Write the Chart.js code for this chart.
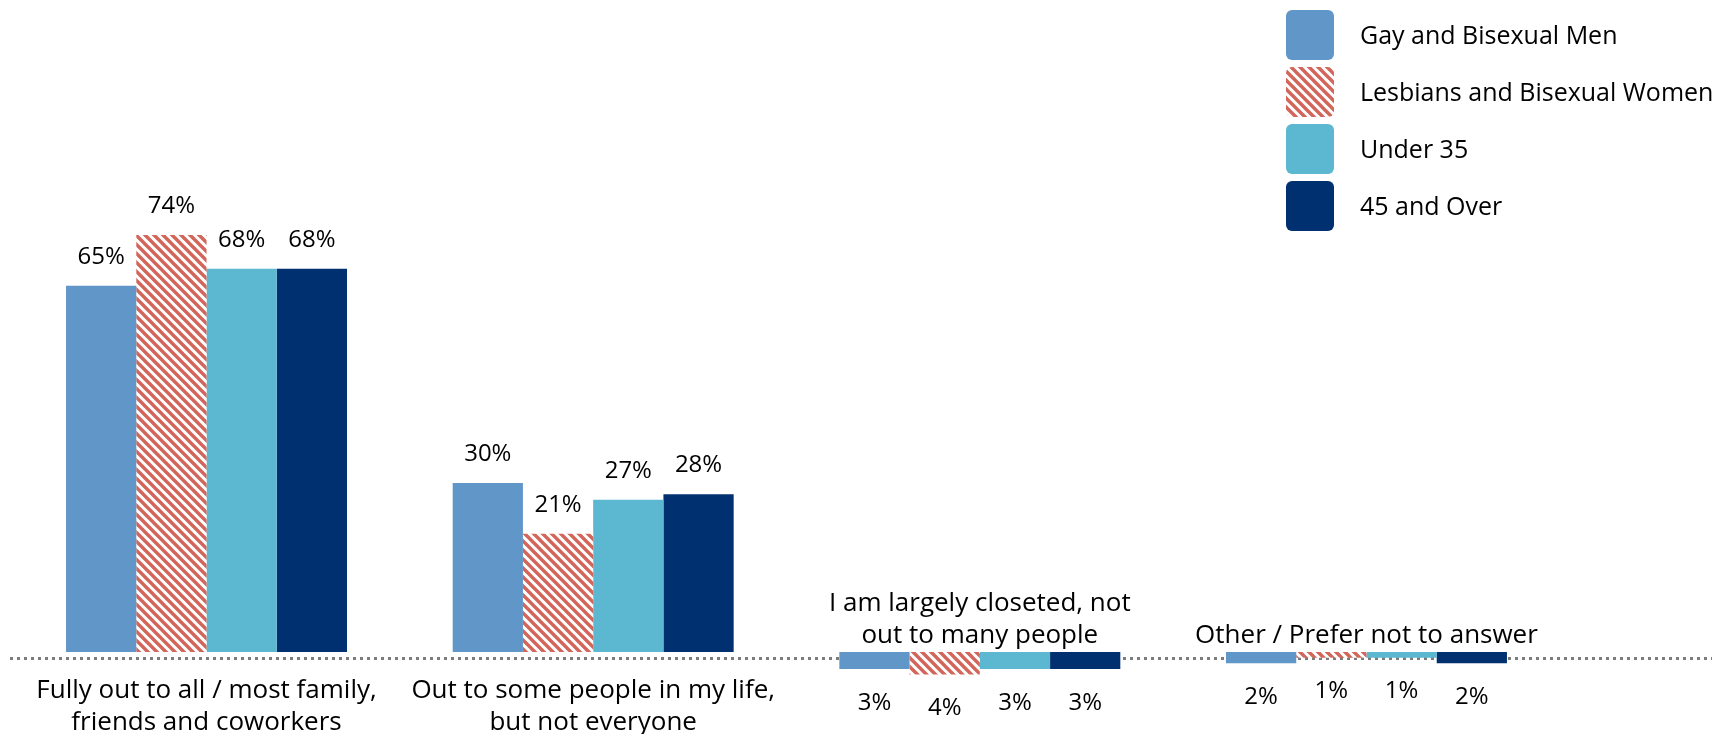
<!DOCTYPE html>
<html>
<head>
<meta charset="utf-8">
<script src="https://cdn.jsdelivr.net/npm/chart.js@4.4.1/dist/chart.umd.min.js"></script>
<style>
  html, body { margin: 0; padding: 0; background: #ffffff; }
  #wrap { position: relative; width: 1712px; height: 734px; }
</style>
</head>
<body>
<div id="wrap"><canvas id="c"></canvas></div>
<script>
// ---- Data ----
const categories = [
  ["Fully out to all / most family,", "friends and coworkers"],
  ["Out to some people in my life,", "but not everyone"],
  ["I am largely closeted, not", "out to many people"],
  ["Other / Prefer not to answer"]
];
const seriesNames = ["Gay and Bisexual Men", "Lesbians and Bisexual Women", "Under 35", "45 and Over"];
// The last two categories hang below the axis in the reference, so they are stored as negative values.
const gayBiMen        = [65, 30, -3, -2];
const lesbiansBiWomen = [74, 21, -4, -1];
const under35         = [68, 27, -3, -1];
const over45          = [68, 28, -3, -2];

// ---- Styles ----
const FONT = '"Open Sans", "DejaVu Sans", sans-serif';
function makeStripePattern() {
  const s = 9;
  const c = document.createElement('canvas');
  c.width = s; c.height = s;
  const g = c.getContext('2d');
  g.fillStyle = '#ffffff';
  g.fillRect(0, 0, s, s);
  g.strokeStyle = '#D3665A';
  g.lineWidth = 3.4;
  g.beginPath();
  for (let k = -3; k <= 3; k++) {
    g.moveTo(k * s - s, -s);
    g.lineTo(k * s + 2 * s, 2 * s);
  }
  g.stroke();
  return g.createPattern(c, 'repeat');
}
const colors = ['#6196C8', makeStripePattern(), '#5BB8D0', '#003070'];

const decoPlugin = {
  id: 'deco',
  beforeDatasetsDraw(chart) {
    const ctx = chart.ctx;
    const y0 = Math.round(chart.scales.y.getPixelForValue(0)) + 6.5;
    ctx.save();
    ctx.strokeStyle = '#7c7c7c';
    ctx.lineWidth = 3;
    ctx.setLineDash([3, 4]);
    ctx.beginPath();
    ctx.moveTo(10, y0);
    ctx.lineTo(chart.width, y0);
    ctx.stroke();
    ctx.restore();
  },
  afterDatasetsDraw(chart) {
    const ctx = chart.ctx;
    const xs = chart.scales.x;
    const zeroY = chart.scales.y.getPixelForValue(0);
    ctx.save();
    ctx.fillStyle = '#000000';
    ctx.textAlign = 'center';
    ctx.textBaseline = 'middle';
    // value labels
    ctx.font = '24px ' + FONT;
    chart.data.datasets.forEach((ds, di) => {
      const meta = chart.getDatasetMeta(di);
      meta.data.forEach((bar, i) => {
        const v = ds.data[i];
        const y = v >= 0 ? bar.y - 29 : bar.y + 34;
        ctx.fillText(Math.abs(v) + '%', bar.x, y);
      });
    });
    // category labels
    ctx.font = '26px ' + FONT;
    chart.data.labels.forEach((lines, i) => {
      const x = xs.getPixelForValue(i);
      const v = chart.data.datasets[0].data[i];
      if (v >= 0) {
        lines.forEach((t, k) => ctx.fillText(t, x, zeroY + 39 + k * 32));
      } else {
        const n = lines.length;
        lines.forEach((t, k) => ctx.fillText(t, x, zeroY - 16 - (n - 1 - k) * 32));
      }
    });
    // legend
    ctx.font = '25px ' + FONT;
    ctx.textAlign = 'left';
    chart.data.datasets.forEach((ds, di) => {
      const top = 10 + di * 57;
      ctx.fillStyle = ds.backgroundColor;
      ctx.beginPath();
      ctx.roundRect(1286, top, 48, 50, 6);
      ctx.fill();
      ctx.fillStyle = '#000000';
      ctx.fillText(ds.label, 1360, top + 27);
    });
    ctx.restore();
  }
};

const seriesValues = [gayBiMen, lesbiansBiWomen, under35, over45];

new Chart(document.getElementById('c'), {
  type: 'bar',
  data: {
    labels: categories,
    datasets: seriesNames.map((name, i) => ({
      label: name,
      data: seriesValues[i],
      backgroundColor: colors[i],
      borderWidth: 0
    }))
  },
  options: {
    responsive: true,
    maintainAspectRatio: false,
    animation: false,
    datasets: { bar: { categoryPercentage: 0.7267, barPercentage: 1.0 } },
    layout: { padding: { left: 13.2, right: 152.2, top: 88.5, bottom: 25.65 } },
    scales: {
      x: { display: false, grid: { display: false } },
      y: { display: false, min: -10, max: 100, grid: { display: false } }
    },
    plugins: {
      legend: { display: false },
      tooltip: { enabled: false }
    }
  },
  plugins: [decoPlugin]
});
</script>
</body>
</html>
